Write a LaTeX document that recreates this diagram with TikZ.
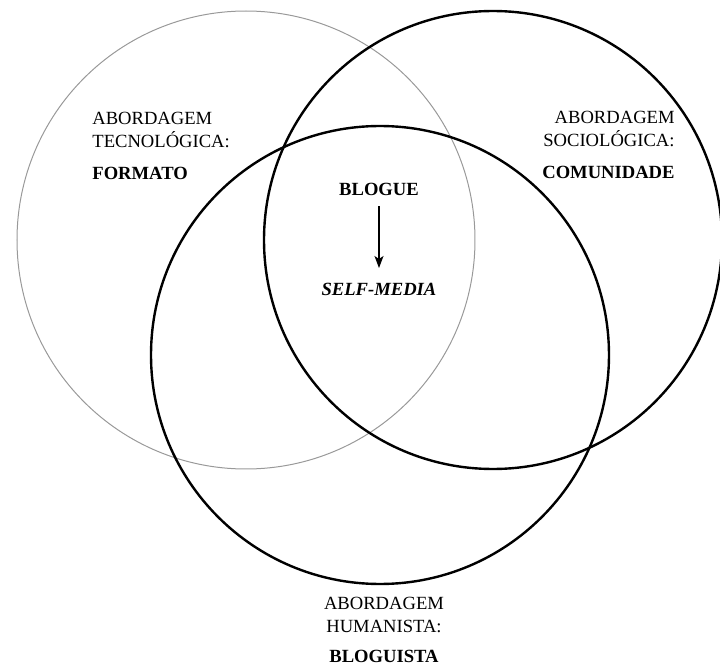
\documentclass[tikz,border=0pt]{standalone}
\usepackage{fontspec}
\setmainfont{Liberation Serif}
\usetikzlibrary{arrows.meta}
\newcommand{\venncircle}[4]{\draw[#4] (#1,#2) circle[radius=#3];}

\begin{document}
\begin{tikzpicture}[x=0.5pt,y=-0.5pt,
  lbl/.style={font=\fontsize{9.3}{13.75}\selectfont,inner sep=0pt},
  ring/.style={line width=1.2pt},
  faintring/.style={line width=0.5pt,black!40}]
\useasboundingbox (0,0) rectangle (720,669);
\venncircle{246}{240}{229}{faintring}
\venncircle{493}{240}{229}{ring}
\venncircle{380}{355}{229}{ring}
\node[lbl,align=left,anchor=north west] (tecno) at (92,112) {ABORDAGEM\\[-2.25pt]TECNOLÓGICA:\\[2.25pt]\textbf{FORMATO}};
\node[lbl,align=right,anchor=north east] (socio) at (675,111) {ABORDAGEM\\[-2.25pt]SOCIOLÓGICA:\\[2.25pt]\textbf{COMUNIDADE}};
\node[lbl,align=center,anchor=north] (human) at (384,597) {ABORDAGEM\\[-2.25pt]HUMANISTA:\\[1.25pt]\textbf{BLOGUISTA}};
\node[lbl,anchor=north] (blogue) at (379,183) {\textbf{BLOGUE}};
\node[lbl,anchor=north] (selfmedia) at (379,283) {\textbf{\textit{SELF-MEDIA}}};
\draw[line width=0.6pt,-{Stealth[length=6pt,width=4.5pt,inset=1.5pt]},shorten <=5pt,shorten >=7.5pt] (blogue.south) -- (selfmedia.north);
\end{tikzpicture}
\end{document}
